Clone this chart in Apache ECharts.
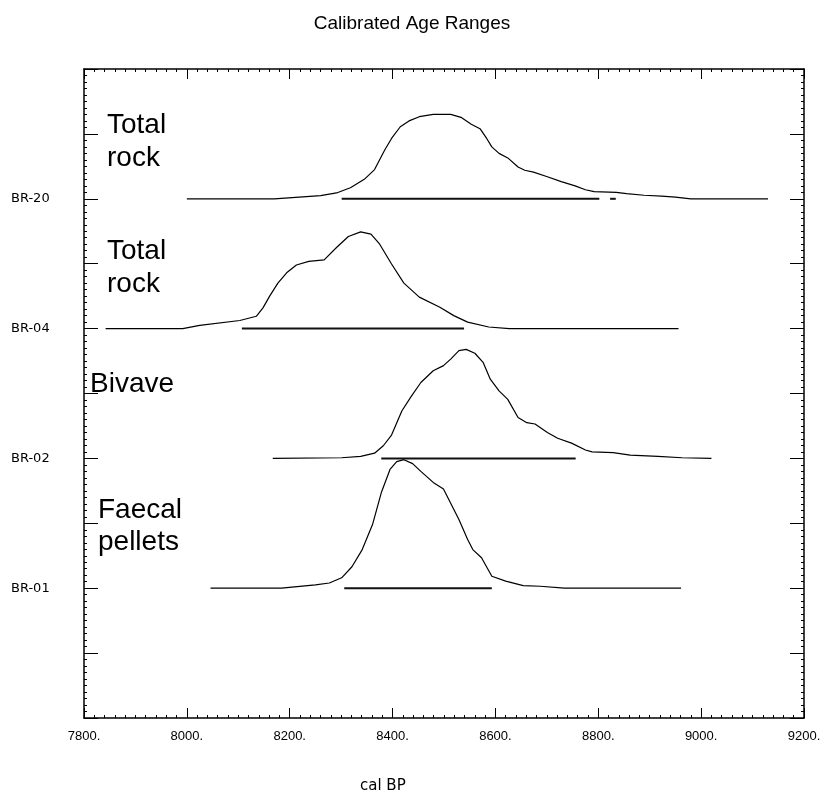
<!DOCTYPE html>
<html>
<head>
<meta charset="utf-8">
<script src="https://cdn.jsdelivr.net/npm/echarts@6/dist/echarts.min.js"></script>
<style>
  * { margin: 0; padding: 0; }
  #chart-container { width: 824px; height: 792px; background: #fff; }
</style>
</head>
<body>
<div id="chart-container"></div>
<script>
  // samples, their row on the y axis, and the material text
  var sampleNames = ['BR-20', 'BR-04', 'BR-02', 'BR-01']
  var sampleRows = [8, 6, 4, 2]
  var materials = ['Total\nrock', 'Total\nrock', 'Bivave', 'Faecal\npellets']

  // probability curves: [cal BP, height above the sample row]
  var br20Curve = [
    [8000, 0], [8170, 0], [8172, 0.025], [8260, 0.05], [8291, 0.09], [8318, 0.17], [8345, 0.3],
    [8365, 0.45], [8385, 0.755], [8398, 0.93], [8415, 1.11], [8432, 1.2], [8452, 1.265], [8479, 1.3],
    [8513, 1.3], [8533, 1.255], [8553, 1.15], [8570, 1.08], [8583, 0.93], [8593, 0.8], [8607, 0.7],
    [8624, 0.63], [8644, 0.49], [8657, 0.44], [8674, 0.41], [8701, 0.34], [8728, 0.265], [8755, 0.2],
    [8775, 0.14], [8792, 0.11], [8835, 0.1], [8855, 0.08], [8889, 0.055], [8923, 0.04], [8950, 0.025],
    [8980, 0], [9130, 0],
  ]
  var br04Curve = [
    [7842, 0], [7992, 0], [8025, 0.05], [8103, 0.125], [8135, 0.19], [8148, 0.32], [8161, 0.5],
    [8177, 0.7], [8194, 0.86], [8213, 0.98], [8237, 1.035], [8267, 1.06], [8291, 1.25], [8314, 1.42],
    [8338, 1.49], [8358, 1.455], [8375, 1.3], [8398, 0.995], [8422, 0.7], [8452, 0.485], [8492, 0.33],
    [8519, 0.2], [8546, 0.1], [8587, 0.025], [8627, 0], [8956, 0],
  ]
  var br02Curve = [
    [8167, 0], [8301, 0.01], [8338, 0.03], [8365, 0.08], [8382, 0.195], [8398, 0.36], [8418, 0.73],
    [8435, 0.94], [8455, 1.17], [8479, 1.35], [8499, 1.43], [8513, 1.53], [8529, 1.66], [8543, 1.68],
    [8560, 1.62], [8576, 1.48], [8590, 1.22], [8607, 1.04], [8624, 0.91], [8644, 0.63], [8661, 0.55],
    [8677, 0.53], [8701, 0.4], [8721, 0.31], [8748, 0.235], [8775, 0.13], [8788, 0.1], [8829, 0.09],
    [8862, 0.05], [8916, 0.03], [8963, 0.01], [9020, 0],
  ]
  var br01Curve = [
    [8046, 0], [8184, 0], [8186, 0.015], [8250, 0.05], [8277, 0.08], [8301, 0.16], [8321, 0.33],
    [8341, 0.595], [8361, 0.98], [8378, 1.47], [8395, 1.83], [8408, 1.95], [8422, 1.98], [8439, 1.92],
    [8455, 1.8], [8479, 1.63], [8499, 1.53], [8513, 1.31], [8529, 1.06], [8546, 0.75], [8556, 0.595],
    [8573, 0.47], [8593, 0.185], [8620, 0.11], [8654, 0.04], [8687, 0.03], [8734, 0], [8961, 0],
  ]

  // calibrated ranges drawn on the row
  var br20Range = [[8301, 8802], [8823, 8834]]
  var br04Range = [[8107, 8539]]
  var br02Range = [[8378, 8756]]
  var br01Range = [[8306, 8593]]

  var curves = [br20Curve, br04Curve, br02Curve, br01Curve]
  var ranges = [br20Range, br04Range, br02Range, br01Range]

  var chartDom = document.getElementById('chart-container')
  var myChart = echarts.init(chartDom, null, { renderer: 'canvas' })

  var rowLabel = {}
  sampleNames.forEach(function (n, i) {
    rowLabel[sampleRows[i]] = n
  })

  var series = []
  curves.forEach(function (c, i) {
    series.push({
      type: 'line',
      symbol: 'none',
      lineStyle: { color: '#000', width: 1.2 },
      data: c.map(function (p) {
        return [p[0], sampleRows[i] + p[1]]
      }),
      z: 3,
    })
    ranges[i].forEach(function (r) {
      series.push({
        type: 'line',
        symbol: 'none',
        lineStyle: { color: '#111', width: 2 },
        data: [[r[0], sampleRows[i]], [r[1], sampleRows[i]]],
        z: 4,
      })
    })
  })

  var axisBase = {
    axisLine: { show: true, onZero: false, lineStyle: { color: '#000', width: 1.5 } },
    splitLine: { show: false },
    minorSplitLine: { show: false },
  }

  var option = {
    animation: false,
    backgroundColor: '#fff',
    title: [
      {
        text: 'Calibrated Age Ranges',
        left: 'center',
        top: 9,
        textStyle: { fontSize: 19, fontWeight: 'normal', color: '#000', fontFamily: 'Liberation Sans, sans-serif' },
      },
      {
        text: 'cal BP',
        left: 355,
        top: 774,
        textStyle: { fontSize: 15, fontWeight: 'normal', color: '#000', fontFamily: 'DejaVu Sans' },
      },
    ],
    grid: { left: 84, right: 20, top: 69, bottom: 74, containLabel: false, outerBoundsMode: 'none' },
    xAxis: [
      Object.assign({}, axisBase, {
        type: 'value',
        min: 7800,
        max: 9200,
        interval: 200,
        position: 'bottom',
        axisTick: { show: true, inside: true, length: 10, lineStyle: { color: '#000' } },
        minorTick: { show: true, splitNumber: 10, length: 3, lineStyle: { color: '#000' } },
        axisLabel: {
          margin: 12,
          color: '#000',
          fontSize: 13,
          fontFamily: 'Liberation Sans Narrow, Liberation Sans, sans-serif',
          formatter: function (v) { return v + '.' },
          showMinLabel: true,
          showMaxLabel: true,
        },
      }),
      Object.assign({}, axisBase, {
        type: 'value',
        min: 7800,
        max: 9200,
        interval: 200,
        position: 'top',
        axisTick: { show: true, inside: true, length: 10, lineStyle: { color: '#000' } },
        minorTick: { show: true, splitNumber: 10, length: 3, lineStyle: { color: '#000' } },
        axisLabel: { show: false },
      }),
    ],
    yAxis: [
      Object.assign({}, axisBase, {
        type: 'value',
        min: 0,
        max: 10,
        interval: 1,
        position: 'left',
        axisTick: { show: true, inside: true, length: 14, lineStyle: { color: '#000' } },
        minorTick: { show: true, splitNumber: 10, length: 3, lineStyle: { color: '#000' } },
        axisLabel: {
          align: 'left',
          margin: 73,
          color: '#000',
          fontSize: 13,
          fontFamily: 'DejaVu Sans',
          padding: [0, 0, 9, 0],
          formatter: function (v) { return rowLabel[v] || '' },
        },
      }),
      Object.assign({}, axisBase, {
        type: 'value',
        min: 0,
        max: 10,
        interval: 1,
        position: 'right',
        axisTick: { show: true, inside: true, length: 14, lineStyle: { color: '#000' } },
        minorTick: { show: true, splitNumber: 10, length: 3, lineStyle: { color: '#000' } },
        axisLabel: { show: false },
      }),
    ],
    graphic: [
      { type: 'text', left: 107, top: 109, style: { text: materials[0], font: '28px Liberation Sans', lineHeight: 33, fill: '#000' } },
      { type: 'text', left: 107, top: 235, style: { text: materials[1], font: '28px Liberation Sans', lineHeight: 33, fill: '#000' } },
      { type: 'text', left: 90, top: 368, style: { text: materials[2], font: '28px Liberation Sans', lineHeight: 33, fill: '#000' } },
      { type: 'text', left: 98, top: 494, style: { text: materials[3], font: '28px Liberation Sans', lineHeight: 32, fill: '#000' } },
    ],
    series: series,
  }

  myChart.setOption(option)
  window.addEventListener('resize', myChart.resize)
</script>
</body>
</html>
